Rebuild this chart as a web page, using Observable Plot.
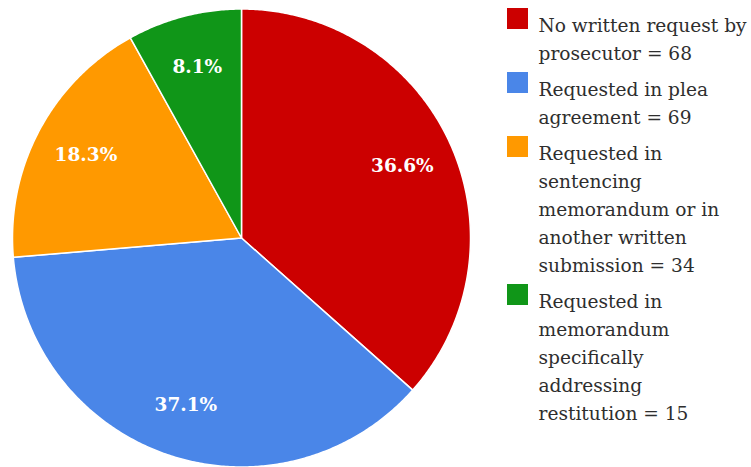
<!DOCTYPE html>
<html><head><meta charset="utf-8">
<script src="https://cdn.jsdelivr.net/npm/d3@7"></script>
<script src="https://cdn.jsdelivr.net/npm/@observablehq/plot@0.6"></script>
<style>body{margin:0;background:#fff}</style>
</head><body><div id="chart"></div>
<script>
// ---- data ----
const categories = [
  "No written request by prosecutor",
  "Requested in plea agreement",
  "Requested in sentencing memorandum or in another written submission",
  "Requested in memorandum specifically addressing restitution"
];
const counts = [68, 69, 34, 15];
const legendLines = [
  ["No written request by", "prosecutor"],
  ["Requested in plea", "agreement"],
  ["Requested in", "sentencing", "memorandum or in", "another written", "submission"],
  ["Requested in", "memorandum", "specifically", "addressing", "restitution"]
];
const colors = ["#cc0000", "#4a86e8", "#ff9900", "#109618"];

// ---- layout ----
const W = 751, H = 467;
const cx = 241, cy = 237.5, R = 229, labelR = 0.77 * R;
const legX = 507, sq = 21, textX = 538, lineH = 28, itemGap = 8, legTop = 12;
const fontSize = 18.6;

const total = d3.sum(counts);
let acc = 0;
const slices = categories.map((c, i) => {
  const a0 = acc / total * 2 * Math.PI; acc += counts[i];
  const a1 = acc / total * 2 * Math.PI;
  const am = (a0 + a1) / 2;
  return {c, a0, a1, pct: (counts[i] / total * 100).toFixed(1) + "%",
          lx: cx + labelR * Math.sin(am), ly: cy - labelR * Math.cos(am)};
});
const pts = [];
for (const s of slices) {
  pts.push({c: s.c, x: cx, y: cy});
  const n = Math.max(2, Math.ceil((s.a1 - s.a0) / (Math.PI / 360)));
  for (let k = 0; k <= n; k++) {
    const a = s.a0 + (s.a1 - s.a0) * k / n;
    pts.push({c: s.c, x: cx + R * Math.sin(a), y: cy - R * Math.cos(a)});
  }
  pts.push({c: s.c, x: cx, y: cy});
}
let ly = legTop;
const legend = categories.map((c, i) => {
  const lines = legendLines[i].slice();
  lines[lines.length - 1] += " = " + counts[i];
  const item = {c, y: ly, text: lines.join("\n")};
  ly += lines.length * lineH + itemGap;
  return item;
});

const chart = Plot.plot({
  width: W, height: H, margin: 0,
  x: {domain: [0, W], range: [0, W], axis: null},
  y: {domain: [0, H], range: [0, H], axis: null},
  color: {domain: categories, range: colors},
  style: {fontFamily: "'DejaVu Serif', serif", background: "#fff"},
  marks: [
    Plot.line(pts, {x: "x", y: "y", z: "c", fill: "c", stroke: "white", strokeWidth: 1.5, strokeLinejoin: "round", curve: "linear"}),
    Plot.text(slices, {x: "lx", y: "ly", text: "pct", fill: "white", fontSize: 18.5, fontWeight: "bold"}),
    Plot.rect(legend, {x1: legX, x2: legX + sq, y1: d => d.y - 4, y2: d => d.y - 4 + sq, fill: "c"}),
    Plot.text(legend, {x: textX, y: "y", text: "text", textAnchor: "start", lineAnchor: "top", lineHeight: lineH / fontSize, fontSize, fill: "#2e2e2e"})
  ]
});
document.getElementById("chart").append(chart);
</script>
</body></html>
